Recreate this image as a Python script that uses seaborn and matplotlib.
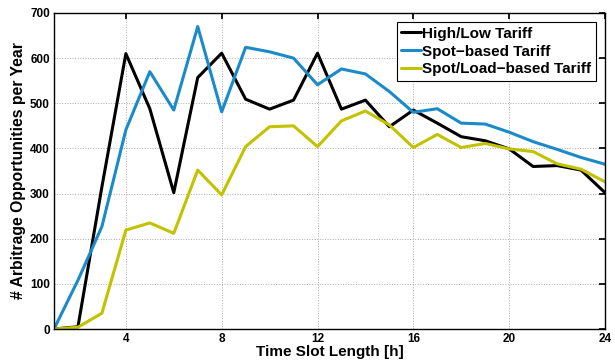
import matplotlib
matplotlib.use("Agg")
import matplotlib.pyplot as plt
import seaborn as sns
import pandas as pd

# time slot length in hours
slot_hours = list(range(1, 25))

high_low = [0, 5, 315, 610, 488, 302, 557, 611, 509, 487, 507, 611,
            487, 507, 448, 485, 456, 426, 417, 399, 360, 362, 352, 302]
spot_based = [0, 108, 227, 441, 570, 485, 670, 481, 624, 614, 600, 541,
              576, 565, 526, 480, 488, 456, 454, 436, 415, 398, 380, 365]
spot_load = [0, 4, 35, 219, 235, 212, 352, 297, 404, 448, 450, 404,
             461, 483, 452, 402, 431, 402, 411, 399, 393, 366, 354, 326]

series_names = ["High/Low Tariff", "Spot\u2212based Tariff", "Spot/Load\u2212based Tariff"]
colors = ["#000000", "#1a8ac9", "#c2c200"]

df = pd.concat([
    pd.DataFrame({"hours": slot_hours, "count": vals, "tariff": name})
    for name, vals in zip(series_names, [high_low, spot_based, spot_load])
])

sns.set_theme(style="white")
plt.rcParams['font.family'] = ['Liberation Sans', 'DejaVu Sans']
plt.rcParams['font.weight'] = 'bold'
plt.rcParams['text.color'] = 'black'
plt.rcParams['axes.labelcolor'] = 'black'

fig = plt.figure(figsize=(6.15, 3.6), dpi=100)
ax = fig.add_axes([0.0878, 0.0861, 0.8959, 0.8778])

sns.lineplot(data=df, x="hours", y="count", hue="tariff", palette=colors,
             hue_order=series_names, linewidth=2.2, ax=ax)

ax.set_xlim(1, 24)
ax.set_ylim(0, 700)
ax.set_xticks([4, 8, 12, 16, 20, 24])
ax.set_yticks(range(0, 701, 100))
ax.grid(True, linestyle=':', color='#aaaaaa', linewidth=0.7)
ax.tick_params(direction='in', length=4, labelsize=8.5, colors='black',
               top=True, right=True, pad=3)
for lbl in ax.get_xticklabels() + ax.get_yticklabels():
    lbl.set_fontweight('bold')
for sp in ax.spines.values():
    sp.set_color('black')
    sp.set_linewidth(1.0)

ax.set_xlabel("Time Slot Length [h]", fontsize=11, fontweight='bold', labelpad=0)
ax.set_ylabel("# Arbitrage Opportunities per Year", fontsize=11.3, fontweight='bold', labelpad=3)

leg = ax.legend(loc='upper right', fontsize=11, frameon=True, fancybox=False,
                handlelength=1.3, handletextpad=0.05, borderpad=0.3,
                labelspacing=0.25, borderaxespad=0.6)
leg.get_frame().set_edgecolor('black')
leg.get_frame().set_linewidth(0.8)
leg.get_frame().set_alpha(1)
for t in leg.get_texts():
    t.set_fontweight('bold')
    t.set_color('black')
for h in leg.get_lines():
    h.set_linewidth(2.2)

fig.savefig("out.png", dpi=100)
